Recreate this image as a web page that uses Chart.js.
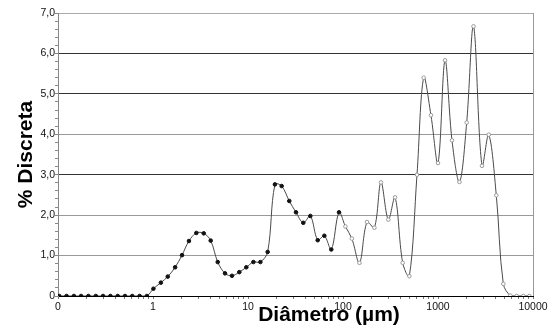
<!DOCTYPE html>
<html><head><meta charset="utf-8">
<script src="https://cdn.jsdelivr.net/npm/chart.js@4/dist/chart.umd.min.js"></script>
<style>html,body{margin:0;padding:0;background:#fff}#wrap{width:552px;height:335px}</style>
</head><body><div id="wrap"><canvas id="c" width="552" height="335"></canvas></div>
<script>
const diameters = [0.103,0.123,0.147,0.175,0.209,0.250,0.298,0.356,0.425,0.507,0.605,0.723,0.863,
  1.01,1.21,1.43,1.71,2.02,2.39,2.86,3.42,4.05,4.80,
  5.73,6.78,8.10,9.60,11.4,13.5,16.1,19.2,22.6,27.2,
  32.0,38.2,45.3,54.2,63.6,75.3,90.8,106,124,149,
  179,214,251,300,353,425,499,601,707,843,
  1000,1185,1404,1683,2004,2365,2904,3420,4110,4870,
  5770,6730,7910,9140];
const discreta = [0,0,0,0,0,0,0,0,0,0,0,0,0,
  0.18,0.33,0.48,0.71,1.01,1.36,1.56,1.55,1.37,0.84,
  0.56,0.50,0.59,0.71,0.84,0.84,1.09,2.76,2.72,2.35,
  2.07,1.81,1.98,1.38,1.49,1.15,2.07,1.72,1.42,0.82,
  1.83,1.69,2.81,1.89,2.44,0.82,0.49,3.00,5.40,4.47,
  3.29,5.83,3.85,2.82,4.29,6.67,3.22,3.99,2.49,0.30,
  0.01,0,0,0];
const xTickValues = [0.1,1,10,100,1000,10000];
const xTickLabels = ['0','1','10','100','1000','10000'];
const yTickValues = [0,1,2,3,4,5,6,7];
const yTickLabels = ['0','1,0','2,0','3,0','4,0','5,0','6,0','7,0'];
const xTitle = 'Diâmetro (µm)';
const yTitle = '% Discreta';

const FONT = "'Liberation Sans', Arial, sans-serif";
const gridColors = {0:'#222',1:'#999',2:'#999',3:'#333',4:'#999',5:'#333',6:'#333',7:'#aaa'};

const extras = {
  id: 'extras',
  afterDraw(chart) {
    const {ctx, chartArea: a} = chart;
    ctx.save();
    ctx.strokeStyle = '#999';
    ctx.lineWidth = 1;
    ctx.beginPath();
    ctx.moveTo(Math.round(a.right) + 0.5, a.top);
    ctx.lineTo(Math.round(a.right) + 0.5, a.bottom);
    ctx.stroke();
    ctx.fillStyle = '#000';
    ctx.font = "bold 21px " + FONT;
    ctx.textAlign = 'center';
    ctx.textBaseline = 'middle';
    ctx.fillText(xTitle, 329, 315);
    ctx.restore();
  }
};

new Chart(document.getElementById('c'), {
  type: 'line',
  data: {
    datasets: [{
      data: diameters.map((d, i) => ({x: d, y: discreta[i]})),
      borderColor: '#4a4a4a',
      borderWidth: 1,
      tension: 0.35,
      pointRadius: 1.8,
      pointBorderWidth: 1,
      pointBackgroundColor: c => (c.raw && c.raw.x > 100) ? '#fff' : '#111',
      pointBorderColor: c => (c.raw && c.raw.x > 100) ? '#999' : '#111'
    }]
  },
  options: {
    responsive: false,
    animation: false,
    layout: {padding: {left: 0, right: 19, top: 13, bottom: 0}},
    plugins: {legend: {display: false}, tooltip: {enabled: false}},
    scales: {
      x: {
        type: 'logarithmic',
        min: 0.1, max: 10000,
        afterBuildTicks(s) {
          const t = [];
          for (let k = 0; k < xTickValues.length - 1; k++) {
            for (let m = 1; m <= 9; m++) t.push({value: xTickValues[k] * m});
          }
          t.push({value: xTickValues[xTickValues.length - 1]});
          s.ticks = t;
        },
        afterFit(s) { s.height = 39; },
        ticks: {
          autoSkip: false, maxRotation: 0, padding: 2,
          color: '#111', font: {family: FONT, size: 10.5},
          callback(v) {
            const i = xTickValues.findIndex(q => Math.abs(q - v) / q < 1e-6);
            return i >= 0 ? xTickLabels[i] : '';
          }
        },
        grid: {drawOnChartArea: false, drawTicks: true, tickLength: 3, tickColor: '#777'},
        border: {color: '#000', width: 1}
      },
      y: {
        type: 'linear',
        min: 0, max: 7,
        afterBuildTicks(s) {
          const t = [];
          for (let i = 0; i <= 35; i++) t.push({value: i / 5});
          s.ticks = t;
        },
        afterFit(s) { s.width = 58; },
        ticks: {
          autoSkip: false, padding: 0,
          color: '#111', font: {family: FONT, size: 10.5},
          callback(v) {
            const i = yTickValues.findIndex(q => Math.abs(q - v) < 1e-6);
            return i >= 0 ? yTickLabels[i] : '';
          }
        },
        grid: {
          color: c => {
            const v = c.tick ? c.tick.value : -1;
            const r = Math.round(v);
            return Math.abs(v - r) < 1e-6 ? gridColors[r] : 'rgba(0,0,0,0)';
          },
          tickColor: '#888', tickLength: 3
        },
        border: {color: '#888', width: 1},
        title: {display: true, text: yTitle, color: '#000',
          font: {family: FONT, size: 21, weight: 'bold'}, padding: {top: 14, bottom: 0}}
      }
    }
  },
  plugins: [extras]
});
</script></body></html>
